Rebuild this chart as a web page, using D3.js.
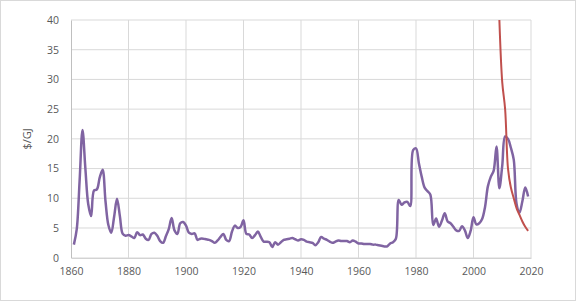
<!DOCTYPE html>
<html>
<head>
<meta charset="utf-8">
<script src="https://cdn.jsdelivr.net/npm/d3@7"></script>
<style>
  body { margin: 0; background: #fff; }
  svg { display: block; font-family: "Open Sans", sans-serif; }
</style>
</head>
<body>
<script>
// yearly prices, $/GJ
const historyStart = 1861;
const historyValues = [
  2.2, 4.8, 13.0, 21.5, 15.0, 9.0, 7.0, 11.3, 11.5, 13.5,
  14.8, 9.5, 5.5, 4.2, 6.9, 9.9, 7.0, 4.0, 3.7, 3.8,
  3.6, 3.3, 4.3, 3.8, 3.9, 3.2, 3.0, 4.0, 4.2, 3.7,
  2.8, 2.5, 3.6, 4.8, 6.7, 4.6, 4.0, 5.8, 6.0, 5.4,
  4.2, 4.0, 4.1, 3.0, 3.2, 3.2, 3.1, 3.0, 2.8, 2.5,
  2.9, 3.5, 4.0, 3.0, 2.8, 4.4, 5.4, 5.0, 5.2, 6.3,
  4.0, 3.9, 3.3, 3.8, 4.4, 3.5, 2.7, 2.7, 2.6, 1.8,
  2.6, 2.2, 2.6, 3.0, 3.1, 3.2, 3.3, 3.1, 2.9, 3.1,
  3.0, 2.7, 2.6, 2.5, 2.1, 2.6, 3.5, 3.2, 3.0, 2.7,
  2.5, 2.7, 2.9, 2.8, 2.8, 2.8, 2.6, 2.9, 2.7, 2.4,
  2.4, 2.3, 2.3, 2.3, 2.2, 2.2, 2.1, 2.0, 1.9, 1.9,
  2.4, 2.6, 3.2, 9.7, 8.9, 9.3, 9.4, 8.7, 18.1, 18.4,
  15.9, 13.6, 11.8, 11.2, 10.6, 5.5, 6.6, 5.2, 6.2, 7.5,
  6.1, 5.8, 5.2, 4.6, 4.5, 5.3, 4.6, 3.3, 4.5, 6.8,
  5.6, 5.8, 6.5, 8.5, 12.0, 13.6, 14.6, 18.7, 11.7, 15.5,
  20.4, 20.0, 18.5, 16.5, 9.0, 7.6, 9.5, 11.8, 10.3
];
const declineYears = [2009, 2010, 2011, 2012, 2013, 2014, 2015, 2016, 2017, 2018, 2019];
const declineValues = [40, 29.5, 25, 15, 11.8, 10, 8.3, 7.2, 6.1, 5.2, 4.5];
const xTicks = [1860, 1880, 1900, 1920, 1940, 1960, 1980, 2000, 2020];
const yTicks = [0, 5, 10, 15, 20, 25, 30, 35, 40];

const width = 576, height = 301;
const margin = { top: 20, right: 45, bottom: 43.3, left: 71 };

const svg = d3.select('body').append('svg')
    .attr('width', width)
    .attr('height', height);

svg.append('rect')
    .attr('x', 0.5).attr('y', 0.5)
    .attr('width', width - 1).attr('height', height - 1)
    .attr('fill', '#fff')
    .attr('stroke', '#d9d9d9');

const x = d3.scaleLinear()
    .domain([1860, 2020])
    .range([margin.left, width - margin.right]);

const y = d3.scaleLinear()
    .domain([0, 40])
    .range([height - margin.bottom, margin.top]);

// gridlines
svg.append('g')
    .selectAll('line')
    .data(yTicks.filter(d => d > 0))
    .enter().append('line')
    .attr('x1', x(1860)).attr('x2', x(2020))
    .attr('y1', d => y(d)).attr('y2', d => y(d))
    .attr('stroke', '#d9d9d9');

svg.append('g')
    .selectAll('line')
    .data(xTicks.filter(d => d > 1860))
    .enter().append('line')
    .attr('x1', d => x(d)).attr('x2', d => x(d))
    .attr('y1', y(0)).attr('y2', y(40))
    .attr('stroke', '#d9d9d9');

// axes
const xAxis = svg.append('g')
    .attr('transform', `translate(0,${y(0)})`)
    .call(d3.axisBottom(x).tickValues(xTicks).tickFormat(d3.format('d')).tickSize(0).tickPadding(10));

const yAxis = svg.append('g')
    .attr('transform', `translate(${x(1860)},0)`)
    .call(d3.axisLeft(y).tickValues(yTicks).tickSize(0).tickPadding(12));

[xAxis, yAxis].forEach(a => {
  a.select('.domain').attr('stroke', '#bfbfbf');
  a.selectAll('text')
      .attr('fill', '#595959')
      .attr('font-size', 10.5)
      .attr('font-family', '"Open Sans", sans-serif');
});

svg.append('text')
    .attr('transform', `translate(31,${(y(0) + y(40)) / 2}) rotate(-90)`)
    .attr('text-anchor', 'middle')
    .attr('fill', '#595959')
    .attr('font-size', 11)
    .text('$/GJ');

svg.append('clipPath')
    .attr('id', 'plot')
  .append('rect')
    .attr('x', x(1860)).attr('y', y(40))
    .attr('width', x(2020) - x(1860))
    .attr('height', y(0) - y(40));

const line = d3.line()
    .x(d => x(d[0]))
    .y(d => y(d[1]))
    .curve(d3.curveCatmullRom);

const history = historyValues.map((v, i) => [historyStart + i, v]);
const decline = declineYears.map((yr, i) => [yr, declineValues[i]]);

svg.append('path')
    .datum(history)
    .attr('clip-path', 'url(#plot)')
    .attr('fill', 'none')
    .attr('stroke', '#8064a2')
    .attr('stroke-width', 2.5)
    .attr('stroke-linejoin', 'round')
    .attr('d', line);

svg.append('path')
    .datum(decline)
    .attr('clip-path', 'url(#plot)')
    .attr('fill', 'none')
    .attr('stroke', '#c0504d')
    .attr('stroke-width', 2)
    .attr('stroke-linejoin', 'round')
    .attr('d', line);
</script>
</body>
</html>
